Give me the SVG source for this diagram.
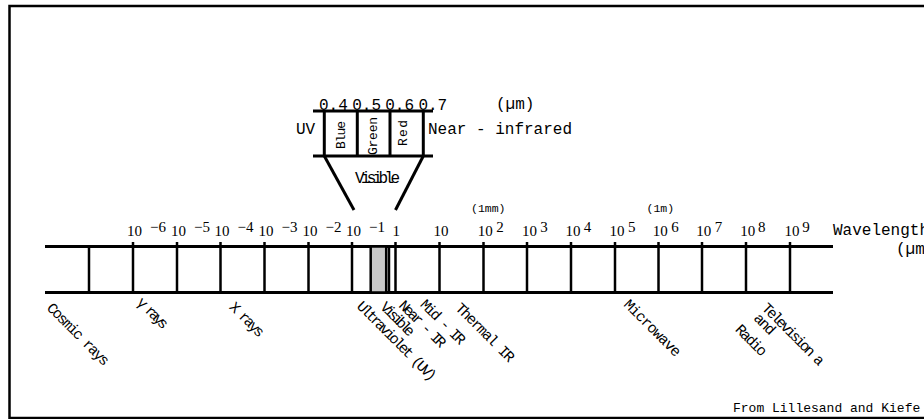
<svg xmlns="http://www.w3.org/2000/svg" width="924" height="419" viewBox="0 0 924 419">
<style>
.ln{stroke:#000;stroke-width:3;fill:none}
.tk{stroke:#000;stroke-width:2.5;fill:none}
.mono{font-family:"Liberation Mono","DejaVu Sans Mono",monospace;fill:#000}
.ser{font-family:"Liberation Serif","Times New Roman",serif;font-size:15px;fill:#000}
.rl{font-family:"Liberation Mono","DejaVu Sans Mono",monospace;font-size:15px;fill:#000}
</style>
<rect id="frame" x="9.5" y="6" width="930" height="412" fill="#fff" stroke="#000" stroke-width="2.5"/>

<g id="visible-detail">
  <line class="ln" x1="313" y1="111" x2="433" y2="111"/>
  <line class="ln" x1="313" y1="156" x2="433" y2="156"/>
  <line class="ln" x1="324.3" y1="111" x2="324.3" y2="156"/>
  <line class="ln" x1="357.3" y1="111" x2="357.3" y2="156"/>
  <line class="ln" x1="390" y1="111" x2="390" y2="156"/>
  <line class="ln" x1="423.3" y1="111" x2="423.3" y2="156"/>
  <text class="mono" font-size="16" x="319" y="109.5">0.4</text>
  <text class="mono" font-size="16" x="352.2" y="109.5">0.5</text>
  <text class="mono" font-size="16" x="385.2" y="109.5">0.6</text>
  <text class="mono" font-size="16" x="418.4" y="109.5">0.7</text>
  <text class="mono" font-size="16" x="496" y="108.5">(µm)</text>
  <text class="mono" font-size="16" x="296" y="134.3">UV</text>
  <text class="mono" font-size="16" x="428" y="134.3">Near - infrared</text>
  <text class="mono" font-size="13" text-anchor="middle" transform="translate(345,135) rotate(-90)" textLength="28" lengthAdjust="spacing">Blue</text>
  <text class="mono" font-size="13" text-anchor="middle" transform="translate(377,136) rotate(-90)" textLength="38" lengthAdjust="spacing">Green</text>
  <text class="mono" font-size="13" text-anchor="middle" transform="translate(407.3,133) rotate(-90)" textLength="26" lengthAdjust="spacing">Red</text>
  <line class="ln" x1="324.3" y1="156" x2="354" y2="210"/>
  <line class="ln" x1="423.3" y1="156" x2="395.5" y2="210"/>
  <text class="mono" font-size="16" x="355" y="182.7" textLength="45" lengthAdjust="spacing">Visible</text>
</g>

<g id="scale">
  <line class="ln" x1="45" y1="246.5" x2="833" y2="246.5"/>
  <line class="ln" x1="45" y1="292.5" x2="833" y2="292.5"/>
  <rect x="370.7" y="246.5" width="15.5" height="46" fill="#c8c8c8" stroke="#000" stroke-width="2.5"/>
  <line class="tk" x1="389" y1="246.5" x2="389" y2="292.5"/>
  <g class="tk">
    <line x1="89" y1="246.5" x2="89" y2="292.5"/>
    <line x1="133" y1="242" x2="133" y2="292.5"/>
    <line x1="177" y1="242" x2="177" y2="292.5"/>
    <line x1="220.5" y1="242" x2="220.5" y2="292.5"/>
    <line x1="264.5" y1="242" x2="264.5" y2="292.5"/>
    <line x1="308.5" y1="242" x2="308.5" y2="292.5"/>
    <line x1="352" y1="242" x2="352" y2="292.5"/>
    <line x1="395.5" y1="242" x2="395.5" y2="292.5"/>
    <line x1="439.5" y1="242" x2="439.5" y2="292.5"/>
    <line x1="483.5" y1="242" x2="483.5" y2="292.5"/>
    <line x1="527" y1="242" x2="527" y2="292.5"/>
    <line x1="571" y1="242" x2="571" y2="292.5"/>
    <line x1="615" y1="242" x2="615" y2="292.5"/>
    <line x1="658.5" y1="242" x2="658.5" y2="292.5"/>
    <line x1="702" y1="242" x2="702" y2="292.5"/>
    <line x1="746" y1="242" x2="746" y2="292.5"/>
    <line x1="790" y1="242" x2="790" y2="292.5"/>
  </g>
</g>

<g id="tick-labels" class="ser">
  <text x="127" y="235.5">10</text><text x="150" y="231.5">−6</text>
  <text x="171" y="235.5">10</text><text x="194" y="231.5">−5</text>
  <text x="214.5" y="235.5">10</text><text x="237.5" y="231.5">−4</text>
  <text x="258.5" y="235.5">10</text><text x="281.5" y="231.5">−3</text>
  <text x="302.5" y="235.5">10</text><text x="325.5" y="231.5">−2</text>
  <text x="346" y="235.5">10</text><text x="369" y="231.5">−1</text>
  <text x="392.5" y="235.5">1</text>
  <text x="433.5" y="235.5">10</text>
  <text x="477.7" y="235.5">10</text><text x="496.3" y="231.5">2</text>
  <text x="522" y="235.5">10</text><text x="540.3" y="231.5">3</text>
  <text x="565.5" y="235.5">10</text><text x="583.7" y="231.5">4</text>
  <text x="609.5" y="235.5">10</text><text x="628" y="231.5">5</text>
  <text x="652.8" y="235.5">10</text><text x="671.3" y="231.5">6</text>
  <text x="696.3" y="235.5">10</text><text x="714.7" y="231.5">7</text>
  <text x="740.3" y="235.5">10</text><text x="758" y="231.5">8</text>
  <text x="784.5" y="235.5">10</text><text x="802.3" y="231.5">9</text>
</g>
<text class="mono" font-size="11.5" x="471" y="212">(1mm)</text>
<text class="mono" font-size="11.5" x="646.5" y="212">(1m)</text>
<text class="mono" font-size="16" x="833" y="235">Wavelength</text>
<text class="mono" font-size="16" x="896" y="254">(µm)</text>

<g id="region-labels">
  <text class="rl" transform="translate(46,308.7) rotate(45)" textLength="82" lengthAdjust="spacing">Cosmic rays</text>
  <text class="rl" transform="translate(136,303) rotate(45)" textLength="38" lengthAdjust="spacing">γ rays</text>
  <text class="rl" transform="translate(228.5,307.7) rotate(45)" textLength="43" lengthAdjust="spacing">X rays</text>
  <text class="rl" transform="translate(356,307) rotate(45)" textLength="106" lengthAdjust="spacing">Ultraviolet (UV)</text>
  <text class="rl" transform="translate(379.5,307.7) rotate(45)" textLength="42" lengthAdjust="spacing">Visible</text>
  <text class="rl" transform="translate(398,306.3) rotate(45)" textLength="60" lengthAdjust="spacing">Near - IR</text>
  <text class="rl" transform="translate(419.5,305.3) rotate(45)" textLength="57" lengthAdjust="spacing">Mid - IR</text>
  <text class="rl" transform="translate(454.5,308.7) rotate(45)" textLength="77" lengthAdjust="spacing">Thermal IR</text>
  <text class="rl" transform="translate(623,305.3) rotate(45)" textLength="74" lengthAdjust="spacing">Microwave</text>
  <text class="rl" transform="translate(761,308.7) rotate(45)" textLength="82" lengthAdjust="spacing">Television a</text>
  <text class="rl" transform="translate(753,319) rotate(45)" textLength="24" lengthAdjust="spacing">and</text>
  <text class="rl" transform="translate(734.5,330.3) rotate(45)" textLength="38" lengthAdjust="spacing">Radio</text>
</g>

<text class="mono" font-size="13" x="733" y="412">From Lillesand and Kiefe</text>
</svg>
